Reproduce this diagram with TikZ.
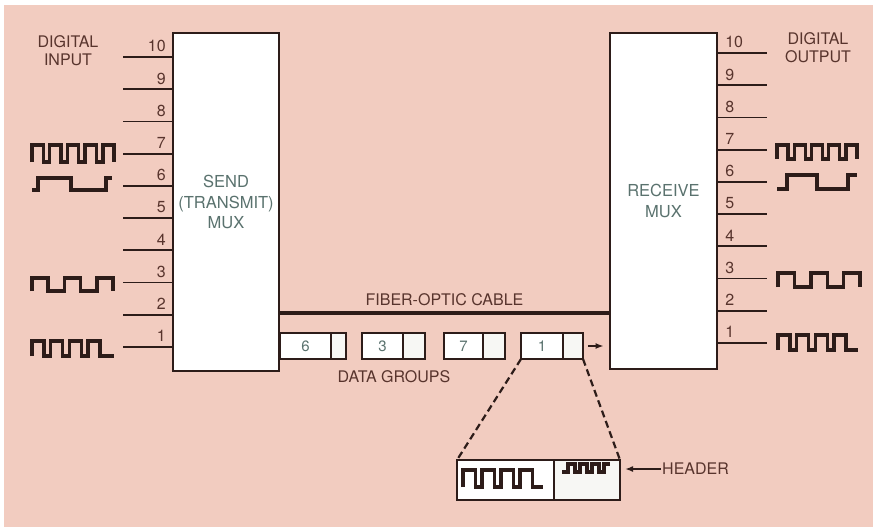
\documentclass[tikz,border=0pt]{standalone}
\usepackage{fontspec}
\setmainfont{TeX Gyre Heros}
\usetikzlibrary{
  arrows.meta,
  positioning
}

\definecolor{paper}{RGB}{242,204,192}
\definecolor{ink}{RGB}{45,28,25}
\definecolor{labelbrown}{RGB}{88,52,45}
\definecolor{muxgrey}{RGB}{90,114,110}
\definecolor{cellgrey}{RGB}{247,247,244}

\tikzset{
  mux/.style={draw=ink, line width=2.8pt, fill=white, inner sep=0pt,
    align=center, text=muxgrey, font=\fontsize{16.5}{20.5}\selectfont},
  pin/.style={draw=ink, line width=1.8pt},
  pinnum/.style={inner sep=0pt, text=labelbrown, font=\fontsize{16}{18}\selectfont},
  wave/.style={draw=ink, line width=3.4pt},
  cell/.style={draw=ink, line width=1.5pt, fill=white, minimum height=26pt,
    inner sep=0pt, outer sep=0pt, text=muxgrey, font=\fontsize{15}{17}\selectfont},
  hcell/.style={cell, fill=cellgrey},
  caption/.style={text=labelbrown, align=center, font=\fontsize{16}{18}\selectfont}
}

\begin{document}
\begin{tikzpicture}[
    x=1pt, y=-1pt,
    >={Latex[length=8pt,width=6pt]}
    ]
    \useasboundingbox (0,0) rectangle (877,531);
    \fill[paper] (4,5) rectangle (873,527);

    % multiplexadores
    \node[mux, minimum width=106pt, minimum height=338pt] (send)
    at (226,202) {SEND\\(TRANSMIT)\\MUX};
    \node[mux, minimum width=107pt, minimum height=336pt] (receive)
    at (663.5,201) {RECEIVE\\MUX};

    % canais
    \foreach \k in {1,...,10}{
      \coordinate (in\k) at (123,{57+(10-\k)*32.2});
      \draw[pin] (in\k) -- (in\k -| send.west)
      node[pinnum, anchor=south east, xshift=-5pt, yshift=4pt] {\k};
      \coordinate (out\k) at (767,{53+(10-\k)*32.2});
      \draw[pin] (out\k -| receive.east)
      node[pinnum, anchor=south west, xshift=6pt, yshift=4pt] {\k} -- (out\k);
    }

    \node[caption] (din) at (68,51) {DIGITAL\\INPUT};
    \node[caption] (dout) at (818,48) {DIGITAL\\OUTPUT};

    % sinais de entrada
    \draw[wave] (32,162)
    foreach \i in {1,...,4}{ -- ++(0,-17) -- ++(11.2,0) -- ++(0,17) -- ++(6.5,0)}
    -- ++(0,-17) -- ++(11.2,0) -- ++(0,17);
    \draw[wave] (32,190) -- (38,190) -- (38,178) -- (71,178)
    -- (71,190) -- (106,190) -- (106,178) -- (112,178);
    \draw[wave] (32,291)
    foreach \i in {1,2}{ -- ++(0,-13) -- ++(16,0) -- ++(0,13) -- ++(16.5,0)}
    -- ++(0,-13) -- ++(16,0) -- ++(0,13);
    \draw[wave] (32,356)
    foreach \i in {1,2,3}{ -- ++(0,-15) -- ++(12,0) -- ++(0,15) -- ++(6.7,0)}
    -- ++(0,-15) -- ++(12,0) -- ++(0,15) -- (114,356);

    % sinais de saida
    \draw[wave] (777,159)
    foreach \i in {1,...,4}{ -- ++(0,-14) -- ++(11,0) -- ++(0,14) -- ++(6.25,0)}
    -- ++(0,-14) -- ++(11,0) -- ++(0,14);
    \draw[wave] (777,189) -- (787,189) -- (787,175) -- (817,175)
    -- (817,189) -- (848,189) -- (848,175) -- (857,175);
    \draw[wave] (778,287)
    foreach \i in {1,2}{ -- ++(0,-14) -- ++(16.4,0) -- ++(0,14) -- ++(16.4,0)}
    -- ++(0,-14) -- ++(16.4,0) -- ++(0,14);
    \draw[wave] (778,350)
    foreach \i in {1,2,3}{ -- ++(0,-15) -- ++(12,0) -- ++(0,15) -- ++(6.7,0)}
    -- ++(0,-15) -- ++(12,0) -- ++(0,15) -- (858,350);

    % cabo
    \coordinate (cableA) at ([yshift=-111pt]send.east);
    \draw[ink, line width=3.4pt] (cableA)
    -- node[caption, above=2pt] (cablelabel) {FIBER-OPTIC CABLE}
    (cableA -| receive.west);

    % grupos de dados
    \node[cell, minimum width=51pt, anchor=west] (grp6) at (280,346) {6};
    \node[hcell, minimum width=15pt, right=0pt of grp6] (grp6h) {};
    \node[cell, minimum width=41pt, anchor=west] (grp3) at (362,346) {3};
    \node[hcell, minimum width=22pt, right=0pt of grp3] (grp3h) {};
    \node[cell, minimum width=39pt, anchor=west] (grp7) at (444,346) {7};
    \node[hcell, minimum width=22pt, right=0pt of grp7] (grp7h) {};
    \node[cell, minimum width=42pt, anchor=west] (grp1) at (521,346) {1};
    \node[hcell, minimum width=20pt, right=0pt of grp1] (grp1h) {};

    \draw[->, ink, line width=1.6pt, shorten <=5pt, shorten >=5pt]
    (grp1h.east) -- (grp1h.east -| receive.west);

    \node[caption] (dgroups) at (394,377) {DATA GROUPS};

    % detalhe do grupo
    \node[cell, minimum width=97pt, minimum height=40pt, anchor=north west]
    (zdata) at (457,460) {};
    \node[hcell, minimum width=66pt, minimum height=40pt, right=0pt of zdata]
    (zhead) {};

    \draw[ink, line width=2.2pt, dash pattern=on 7pt off 4pt]
    (grp1.south west) -- (zdata.north west);
    \draw[ink, line width=2.2pt, dash pattern=on 7pt off 4pt]
    (grp1h.south east) -- (zhead.north east);

    \draw[wave] (463,487)
    foreach \i in {1,2,3}{ -- ++(0,-17) -- ++(12.5,0) -- ++(0,17) -- ++(6.5,0)}
    -- ++(0,-17) -- ++(12.5,0) -- ++(0,17) -- (543,487);
    \draw[wave] (562,472) -- (568,472)
    foreach \i in {1,2,3}{ -- ++(0,-8) -- ++(7,0) -- ++(0,8) -- ++(5,0)}
    -- ++(0,-8) -- (610,464);

    \node[caption, anchor=west, inner sep=1pt] (hdr) at (661,469) {HEADER};
    \draw[->, ink, line width=1.6pt, shorten >=5pt]
    (hdr.west) -- (hdr.west -| zhead.east);

\end{tikzpicture}
\end{document}
